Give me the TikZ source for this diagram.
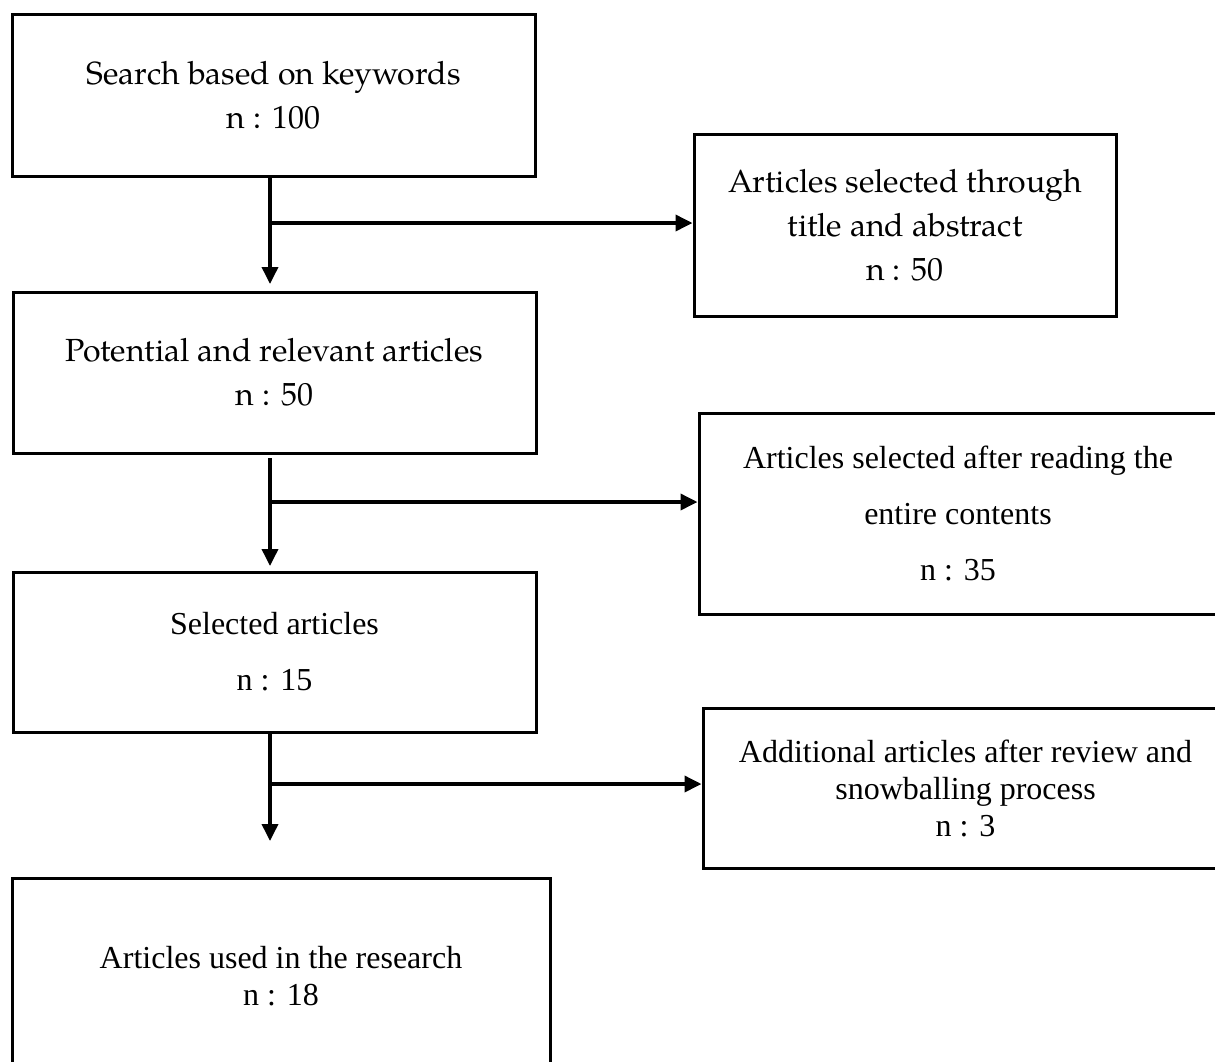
\documentclass[tikz,border=0pt]{standalone}
\usepackage{fontspec}
\setmainfont{Liberation Serif}
\newfontfamily\palfont{TeX Gyre Pagella}
\newfontfamily\timesfont{Liberation Serif}
\usetikzlibrary{arrows.meta}
\begin{document}
\begin{tikzpicture}[x=1pt,y=-1pt,
  box/.style={draw=black, line width=3pt, rectangle, align=center, inner sep=0pt},
  palbox/.style={box, font={\palfont\fontsize{32}{44}\selectfont}},
  timesbox/.style={box, font={\timesfont\fontsize{32}{56}\selectfont}},
  timesboxb/.style={box, font={\timesfont\fontsize{32}{37}\selectfont}},
  arr/.style={line width=3.6pt, -{Triangle[length=17pt,width=16pt]}}
]
\useasboundingbox (0,0) rectangle (1215,1061);
\fill[white] (0,0) rectangle (1215,1061);
\clip (0,0) rectangle (1215,1061);

% left column
\node[palbox, minimum width=523pt, minimum height=162pt] (b1) at (273.5,95)
  {Search based on keywords\\n : 100};
\node[palbox, minimum width=523pt, minimum height=161pt] (b3) at (274.5,372.5)
  {Potential and relevant articles\\n : 50};
\node[timesbox, minimum width=523pt, minimum height=160pt] (b5) at (274.5,652)
  {Selected articles\\n : 15};
\node[timesboxb, minimum width=538pt, minimum height=197pt] (b7) at (281,976.5)
  {Articles used in the research\\n : 18};

% right column
\node[palbox, minimum width=422pt, minimum height=182pt] (b2) at (905,225)
  {Articles selected through\\title and abstract\\n : 50};
\node[timesbox, minimum width=518pt, minimum height=201pt] (b4) at (958,513.5)
  {Articles selected after reading the\\entire contents\\n : 35};
\node[timesboxb, minimum width=525pt, minimum height=160pt] (b6) at (965.5,788)
  {Additional articles after review and\\snowballing process\\n : 3};

% junction coordinates
\coordinate (v1) at (270,284);
\coordinate (h1) at (270,223);
\coordinate (s2) at (270,458);
\coordinate (v2) at (270,566);
\coordinate (h2) at (270,502);
\coordinate (v3) at (270,841);
\coordinate (h3) at (270,784);

% connectors
\draw[arr] (b1.south -| v1) -- (v1);
\draw[arr] (h1) -- (b2.west |- h1);
\draw[arr] (s2) -- (v2);
\draw[arr] (h2) -- (b4.west |- h2);
\draw[arr] (b5.south -| v3) -- (v3);
\draw[arr] (h3) -- (b6.west |- h3);
\end{tikzpicture}
\end{document}
